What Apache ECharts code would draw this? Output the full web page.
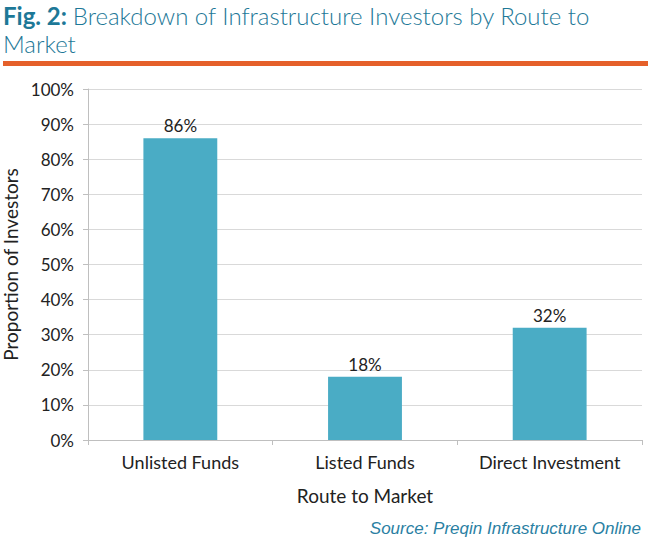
<!DOCTYPE html>
<html><head><meta charset="utf-8">
<script src="https://cdn.jsdelivr.net/npm/echarts@6/dist/echarts.min.js"></script>
<style>html,body{margin:0;padding:0;background:#fff}#c{width:650px;height:545px}</style>
</head><body><div id="c"></div>
<script>
const categories = ['Unlisted Funds', 'Listed Funds', 'Direct Investment'];
const values = [86, 18, 32];
const yTicks = [0, 10, 20, 30, 40, 50, 60, 70, 80, 90, 100];

const chart = echarts.init(document.getElementById('c'), null, {renderer: 'svg'});
chart.setOption({
  animation: false,
  backgroundColor: '#fff',
  title: [{
    left: 3, top: 3, padding: 0,
    text: '{b|Fig. 2:} {n|Breakdown of Infrastructure Investors by Route to}',
    textStyle: {
      fontFamily: 'Lato', fontSize: 24, color: '#1d7897', lineHeight: 24,
      rich: {
        b: {fontFamily: 'Lato', fontSize: 24, fontWeight: 'bold', color: '#1d7897', lineHeight: 24},
        n: {fontFamily: 'Lato', fontSize: 24, fontWeight: 300, color: '#1d7897', lineHeight: 24}
      }
    }
  }, {
    left: 3, top: 31, padding: 0,
    text: 'Market',
    textStyle: {fontFamily: 'Lato', fontSize: 24, fontWeight: 300, color: '#1d7897', lineHeight: 24}
  }, {
    right: 4, bottom: 3,
    text: 'Source: Preqin Infrastructure Online',
    textStyle: {fontFamily: 'Liberation Sans', fontSize: 17, fontStyle: 'italic', fontWeight: 'normal', color: '#2a7fa3'}
  }],
  graphic: [{
    type: 'rect', shape: {x: 3, y: 61, width: 645, height: 5},
    style: {fill: '#e5602a'}
  }],
  grid: {left: 88, right: 8, top: 89, bottom: 105, containLabel: false, outerBoundsMode: 'none'},
  xAxis: {
    type: 'category', data: categories,
    name: 'Route to Market', nameLocation: 'middle', nameGap: 46,
    nameTextStyle: {fontFamily: 'Lato', fontSize: 19, color: '#222'},
    axisLine: {lineStyle: {color: '#bfbfbf'}},
    axisTick: {show: true, length: 5, lineStyle: {color: '#bfbfbf'}},
    axisLabel: {fontFamily: 'Lato', fontSize: 18, color: '#222', margin: 13}
  },
  yAxis: {
    type: 'value', min: 0, max: 100, interval: 10,
    name: 'Proportion of Investors', nameLocation: 'middle', nameGap: 67,
    nameTextStyle: {fontFamily: 'Lato', fontSize: 19, color: '#222'},
    axisLine: {show: true, lineStyle: {color: '#bfbfbf'}},
    axisTick: {show: true, length: 5, lineStyle: {color: '#bfbfbf'}},
    axisLabel: {fontFamily: 'Lato', fontSize: 17, color: '#222', margin: 14,
      formatter: v => yTicks.includes(v) ? v + '%' : ''},
    splitLine: {lineStyle: {color: '#d9d9d9'}}
  },
  series: [{
    type: 'bar', data: values, barWidth: '40%',
    itemStyle: {color: '#4aacc5'},
    label: {show: true, position: 'top', formatter: '{c}%', fontFamily: 'Lato', fontSize: 17, color: '#222', distance: 4}
  }]
});
</script></body></html>
